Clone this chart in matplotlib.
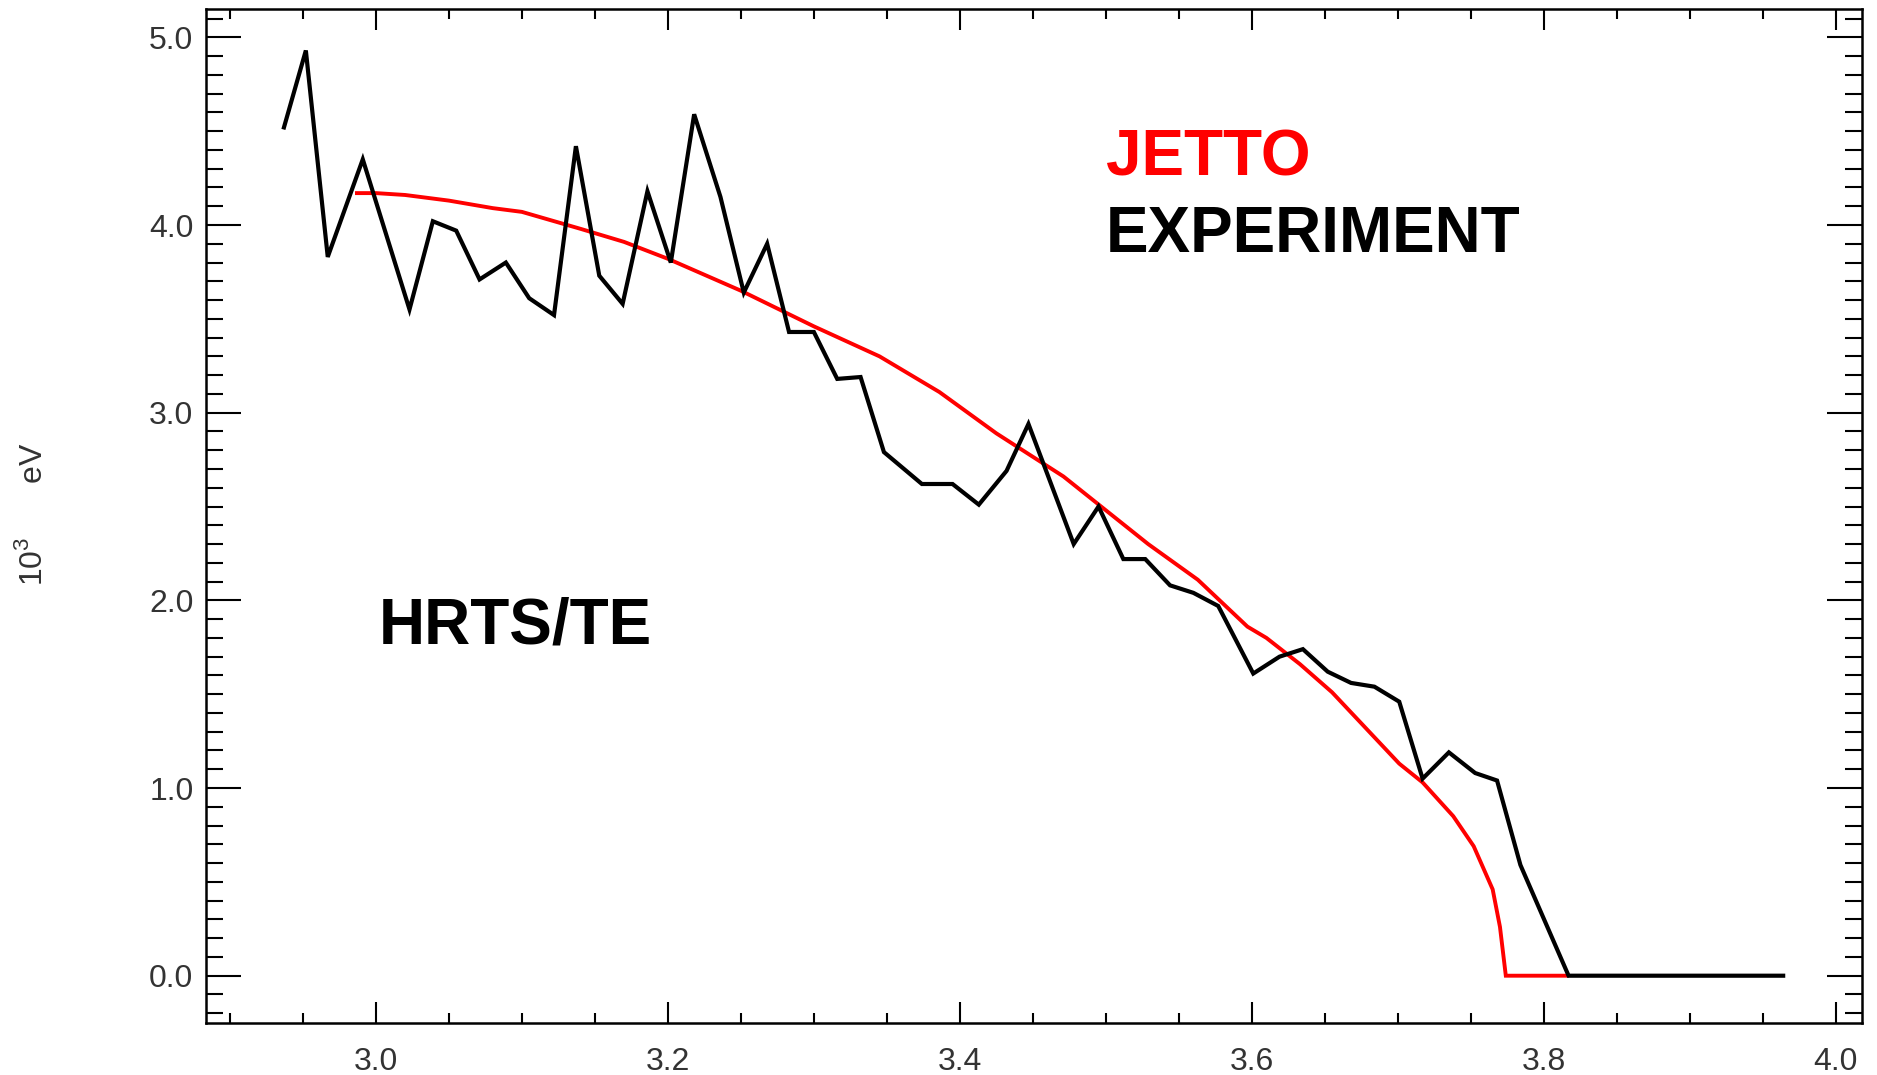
import numpy as np
import matplotlib
matplotlib.use("Agg")
import matplotlib.pyplot as plt
from matplotlib.ticker import MultipleLocator, FormatStrFormatter

plt.rcParams["mathtext.fontset"] = "custom"
plt.rcParams["mathtext.rm"] = "Liberation Sans"

# HRTS electron temperature profile (10^3 eV) against major radius
exp_r = [2.937, 2.952, 2.967, 2.991, 3.023, 3.039, 3.055, 3.071, 3.089, 3.105,
         3.122, 3.137, 3.153, 3.169, 3.186, 3.202, 3.218, 3.236, 3.252, 3.268,
         3.283, 3.300, 3.316, 3.332, 3.348, 3.374, 3.395, 3.413, 3.432, 3.447,
         3.478, 3.495, 3.512, 3.527, 3.544, 3.560, 3.577, 3.601, 3.619, 3.635,
         3.652, 3.668, 3.684, 3.701, 3.717, 3.735, 3.753, 3.768, 3.784, 3.817,
         3.964]
exp_te = [4.52, 4.93, 3.83, 4.35, 3.55, 4.02, 3.97, 3.71, 3.80, 3.61,
          3.52, 4.42, 3.73, 3.58, 4.18, 3.80, 4.59, 4.15, 3.64, 3.90,
          3.43, 3.43, 3.18, 3.19, 2.79, 2.62, 2.62, 2.51, 2.69, 2.94,
          2.30, 2.50, 2.22, 2.22, 2.08, 2.04, 1.97, 1.61, 1.70, 1.74,
          1.62, 1.56, 1.54, 1.46, 1.05, 1.19, 1.08, 1.04, 0.59, 0.0,
          0.0]

# JETTO simulated profile
jet_r = [2.987, 3.000, 3.020, 3.050, 3.080, 3.100, 3.140, 3.170, 3.200, 3.250,
         3.300, 3.345, 3.386, 3.425, 3.471, 3.529, 3.563, 3.597, 3.610, 3.633,
         3.655, 3.701, 3.717, 3.738, 3.752, 3.765, 3.770, 3.774, 3.816]
jet_te = [4.17, 4.17, 4.16, 4.13, 4.09, 4.07, 3.98, 3.91, 3.82, 3.65,
          3.46, 3.30, 3.11, 2.89, 2.66, 2.30, 2.11, 1.86, 1.80, 1.66,
          1.51, 1.13, 1.03, 0.85, 0.69, 0.46, 0.26, 0.0, 0.0]

W, H = 1877, 1075
fig = plt.figure(figsize=(W / 100, H / 100), dpi=100)
ax = fig.add_axes([206 / W, 52 / H, (1862 - 206) / W, (1023 - 9) / H])

ax.plot(jet_r, jet_te, color="#ff0000", lw=2.8, solid_joinstyle="miter")
ax.plot(exp_r, exp_te, color="black", lw=3.0, solid_joinstyle="miter")

ax.set_xlim(2.8836, 4.018)
ax.set_ylim(-0.252, 5.151)

ax.xaxis.set_major_locator(MultipleLocator(0.2))
ax.xaxis.set_minor_locator(MultipleLocator(0.05))
ax.yaxis.set_major_locator(MultipleLocator(1.0))
ax.yaxis.set_minor_locator(MultipleLocator(0.1))
ax.xaxis.set_major_formatter(FormatStrFormatter("%.1f"))
ax.yaxis.set_major_formatter(FormatStrFormatter("%.1f"))

lab_col = "#333333"
ax.tick_params(axis="both", which="both", direction="in", top=True, right=True,
               width=1.5, color="black", labelcolor=lab_col)
ax.tick_params(axis="x", which="major", length=15, pad=17, labelsize=23)
ax.tick_params(axis="x", which="minor", length=7.5)
ax.tick_params(axis="y", which="major", length=25, pad=9, labelsize=23)
ax.tick_params(axis="y", which="minor", length=12.5)
for lbl in ax.get_xticklabels() + ax.get_yticklabels():
    lbl.set_family("Liberation Sans")
for sp in ax.spines.values():
    sp.set_linewidth(1.8)

fig.text(33 / W, 1 - 514 / H, "10$^{3}$      eV", rotation=90, ha="center",
         va="center", fontsize=23, family="Liberation Sans", color=lab_col)

bold = dict(family="Liberation Sans", weight="bold", fontsize=46,
            ha="left", va="baseline")
ax.text(3.5, 4.263, "JETTO", color="#ff0000", **bold)
ax.text(3.5, 3.854, "EXPERIMENT", color="black", **bold)
ax.text(3.002, 1.768, "HRTS/TE", color="black", **bold)

fig.savefig("out.png", dpi=100, facecolor="white")
